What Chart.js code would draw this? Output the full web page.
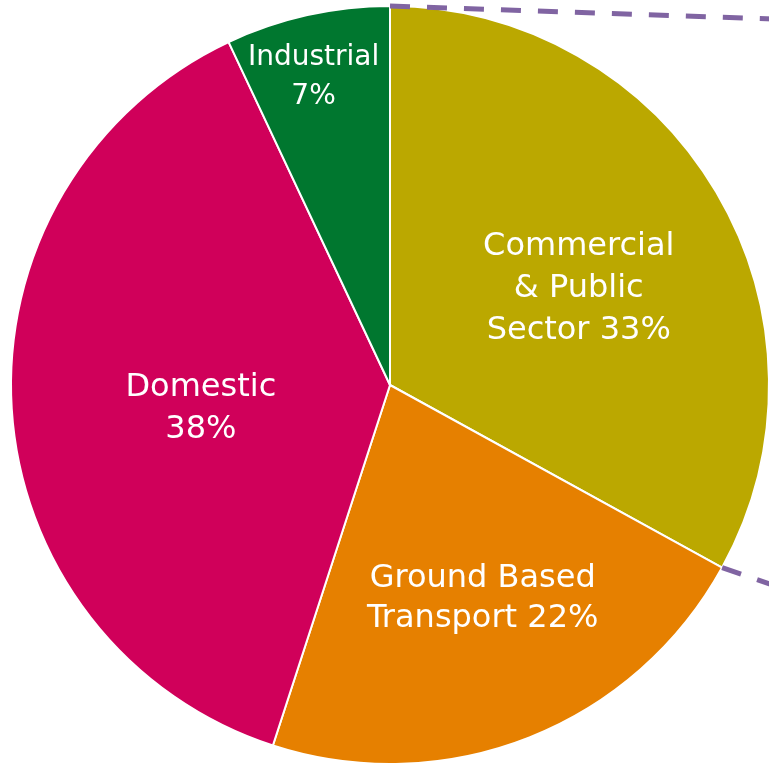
<!DOCTYPE html>
<html>
<head>
<meta charset="utf-8">
<script src="https://cdn.jsdelivr.net/npm/chart.js@4"></script>
<style>
  html, body { margin: 0; padding: 0; background: #fff; overflow: hidden; }
  #wrap { position: absolute; left: 0; top: 0; width: 790px; height: 770px; }
</style>
</head>
<body>
<div id="wrap"><canvas id="pie"></canvas></div>
<script>
/* ENERGY USE BY SECTOR */

const sectors = ['Commercial & Public Sector', 'Ground Based Transport', 'Domestic', 'Industrial'];
const shares = [33, 22, 38, 7];
const labelLines = [
  ['Commercial', '& Public', 'Sector 33%'],
  ['Ground Based', 'Transport 22%'],
  ['Domestic', '38%'],
  ['Industrial', '7%']
];
const sliceColors = ['#BBA800', '#E68000', '#D0005A', '#00772F'];

// where each label sits along the slice radius, nudges, font size, line gap
const labelRadius = [0.6, 0.6, 0.5, 0.84];
const labelShift = [[-7, 19], [9, 2], [0, 12], [-7, 3]];
const labelFont = [32, 32, 32, 28];
const labelLead = [42, 40, 42, 39];

// white text in the slices
const sliceLabels = {
  id: 'sliceLabels',
  afterDatasetsDraw(chart) {
    const ctx = chart.ctx;
    const arcs = chart.getDatasetMeta(0).data;
    arcs.forEach(function(arc, i) {
      const mid = (arc.startAngle + arc.endAngle) / 2;
      const r = arc.outerRadius * labelRadius[i];
      const x = arc.x + Math.cos(mid) * r + labelShift[i][0];
      const y = arc.y + Math.sin(mid) * r + labelShift[i][1];
      const lines = labelLines[i];
      ctx.save();
      ctx.fillStyle = '#fff';
      ctx.font = labelFont[i] + 'px "DejaVu Sans"';
      ctx.textAlign = 'center';
      ctx.textBaseline = 'middle';
      lines.forEach(function(line, k) {
        ctx.fillText(line, x, y + (k - (lines.length - 1) / 2) * labelLead[i]);
      });
      ctx.restore();
    });
  }
};

// dashed callout lines leading off to the right from the first slice
const calloutLines = {
  id: 'calloutLines',
  afterDatasetsDraw(chart) {
    const ctx = chart.ctx;
    const arc = chart.getDatasetMeta(0).data[0];
    const ends = [arc.startAngle, arc.endAngle];
    const slopes = [0.034, 0.346];
    ctx.save();
    ctx.strokeStyle = '#8064A2';
    ctx.lineWidth = 5;
    ctx.setLineDash([20, 17]);
    ends.forEach(function(a, i) {
      const x0 = arc.x + Math.cos(a) * arc.outerRadius;
      const y0 = arc.y + Math.sin(a) * arc.outerRadius;
      ctx.beginPath();
      ctx.moveTo(x0, y0);
      ctx.lineTo(x0 + 600, y0 + 600 * slopes[i]);
      ctx.stroke();
    });
    ctx.restore();
  }
};

new Chart(document.getElementById('pie'), {
  type: 'pie',
  data: {
    labels: sectors,
    datasets: [{
      data: shares,
      backgroundColor: sliceColors,
      borderColor: '#fff',
      borderWidth: 2
    }]
  },
  options: {
    responsive: true,
    maintainAspectRatio: false,
    animation: false,
    layout: { padding: { left: 10, right: 20, top: 5, bottom: 5 } },
    plugins: {
      legend: { display: false },
      tooltip: { enabled: false }
    }
  },
  plugins: [sliceLabels, calloutLines]
});
</script>
</body>
</html>
